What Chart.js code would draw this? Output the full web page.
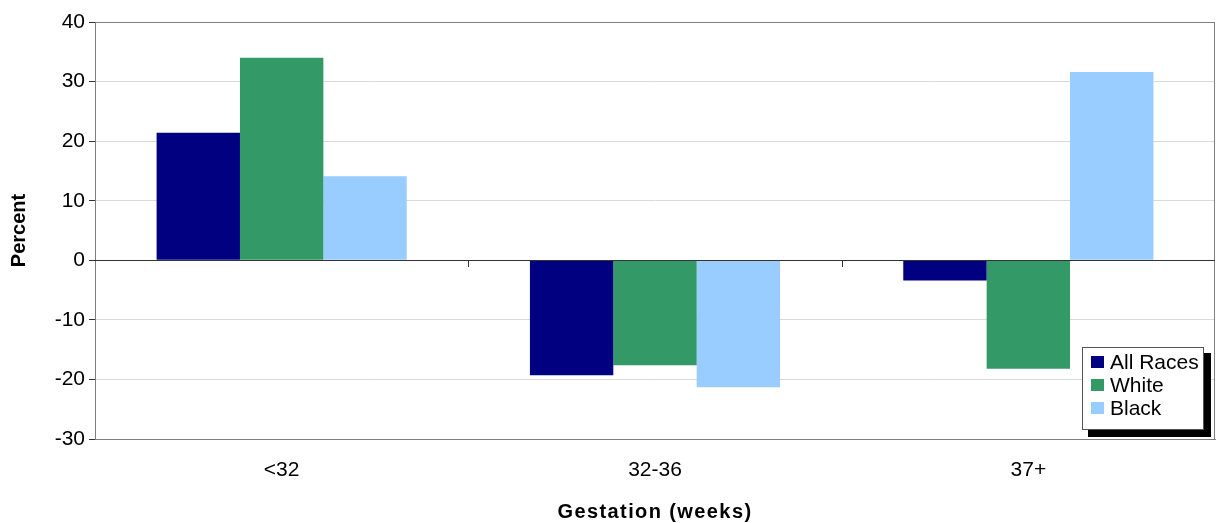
<!DOCTYPE html>
<html><head><meta charset="utf-8">
<script src="https://cdn.jsdelivr.net/npm/chart.js@4/dist/chart.umd.min.js"></script>
<style>html,body{margin:0;padding:0;background:#fff;overflow:hidden}</style>
</head><body>
<canvas id="c" width="1219" height="523"></canvas>
<script>
const categories = ['<32', '32-36', '37+'];
const seriesNames = ['All Races', 'White', 'Black'];
const allRaces = [21.4, -19.3, -3.4];
const white = [34.0, -17.6, -18.2];
const black = [14.1, -21.3, 31.6];
const yTicks = [40, 30, 20, 10, 0, -10, -20, -30];
const colors = ['#000080', '#339966', '#99CCFF'];
const xTitle = 'Gestation (weeks)';
const yTitle = 'Percent';
const FONT = "'Liberation Sans', Arial, sans-serif";

const extras = {
  id: 'extras',
  beforeDatasetsDraw(chart) {
    const {ctx, chartArea: a} = chart;
    ctx.save();
    ctx.strokeStyle = '#7f7f7f';
    ctx.lineWidth = 1;
    ctx.strokeRect(Math.round(a.left) + 0.5, Math.round(a.top) + 0.5, Math.round(a.right - a.left) - 1, Math.round(a.bottom - a.top));
    ctx.restore();
  },
  afterDatasetsDraw(chart) {
    const {ctx, chartArea: a, scales} = chart;
    const xs = scales.x, ys = scales.y;
    const y0 = Math.round(ys.getPixelForValue(0));
    ctx.save();
    // zero line
    ctx.strokeStyle = '#333';
    ctx.lineWidth = 1;
    ctx.beginPath();
    ctx.moveTo(a.left, y0 + 0.5); ctx.lineTo(a.right, y0 + 0.5); ctx.stroke();
    // category boundary ticks
    for (let i = 0; i < categories.length - 1; i++) {
      const xb = Math.round((xs.getPixelForTick(i) + xs.getPixelForTick(i + 1)) / 2) + 0.5;
      ctx.beginPath(); ctx.moveTo(xb, y0); ctx.lineTo(xb, y0 + 7); ctx.stroke();
    }
    // legend
    const lx = 1082, ly = 347, lw = 121, lh = 82;
    ctx.fillStyle = '#000';
    ctx.fillRect(lx + 6, ly + 6, lw + 2, lh + 2);
    ctx.fillStyle = '#fff';
    ctx.fillRect(lx, ly, lw, lh);
    ctx.strokeStyle = '#555';
    ctx.strokeRect(lx + 0.5, ly + 0.5, lw, lh);
    ctx.font = '21px ' + FONT;
    ctx.textBaseline = 'middle';
    ctx.textAlign = 'left';
    chart.data.datasets.forEach((ds, i) => {
      const cy = ly + 15 + i * 23;
      ctx.fillStyle = ds.backgroundColor;
      ctx.fillRect(lx + 9, cy - 6, 13, 12);
      ctx.fillStyle = '#000';
      ctx.fillText(ds.label, lx + 28, cy + 1);
    });
    // x title with letter spacing
    ctx.font = 'bold 20px ' + FONT;
    ctx.textAlign = 'center';
    ctx.fillStyle = '#000';
    try { ctx.letterSpacing = '1.4px'; } catch (e) {}
    ctx.fillText(xTitle, (a.left + a.right) / 2, 512);
    ctx.restore();
  }
};

new Chart(document.getElementById('c'), {
  type: 'bar',
  data: {
    labels: categories,
    datasets: [
      {label: seriesNames[0], data: allRaces, backgroundColor: colors[0]},
      {label: seriesNames[1], data: white, backgroundColor: colors[1]},
      {label: seriesNames[2], data: black, backgroundColor: colors[2]}
    ]
  },
  options: {
    responsive: false,
    devicePixelRatio: 1,
    animation: false,
    layout: {padding: {top: 22, right: 4, left: 0, bottom: 0}},
    datasets: {bar: {categoryPercentage: 0.67, barPercentage: 1.0, borderWidth: 0}},
    plugins: {legend: {display: false}, tooltip: {enabled: false}},
    scales: {
      x: {
        grid: {display: false, drawTicks: false},
        border: {display: true, color: '#7f7f7f'},
        ticks: {color: '#000', font: {family: FONT, size: 21}, padding: 19},
        afterFit(s) { s.height = 84; }
      },
      y: {
        min: -30, max: 40,
        afterBuildTicks(s) { s.ticks = yTicks.map(v => ({value: v})); },
        grid: {color: '#d9d9d9', tickColor: '#333', tickLength: 6, lineWidth: 1},
        border: {display: true, color: '#333'},
        ticks: {color: '#000', font: {family: FONT, size: 21}, padding: 4},
        title: {display: true, text: yTitle, color: '#000', font: {family: FONT, size: 20, weight: 'bold'}, padding: {top: 7, bottom: 0}},
        afterFit(s) { s.width = 95; }
      }
    }
  },
  plugins: [extras]
});
</script>
</body></html>
